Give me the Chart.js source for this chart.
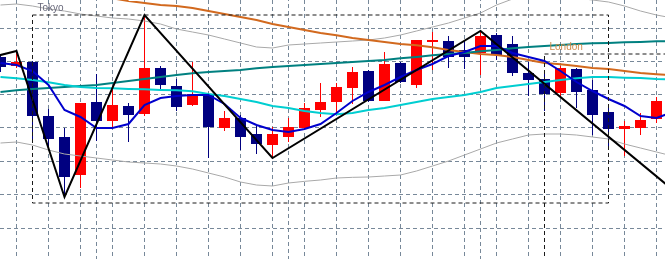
<!DOCTYPE html>
<html>
<head>
<meta charset="utf-8">
<script src="https://cdn.jsdelivr.net/npm/chart.js@4/dist/chart.umd.min.js"></script>
<style>
  html, body { margin: 0; padding: 0; background: #fff; }
  #wrap { width: 665px; height: 259px; position: relative; }
</style>
</head>
<body>
<div id="wrap"><canvas id="chart"></canvas></div>
<script>
// candles, one per bar index 0..41
const candleOpen = [145.513, 145.486, 145.498, 145.336, 145.273, 145.159, 145.378, 145.321, 145.366, 145.342,
    145.480, 145.426, 145.369, 145.402, 145.300, 145.330, 145.282, 145.249, 145.273, 145.300,
    145.354, 145.378, 145.420, 145.471, 145.381, 145.495, 145.429, 145.558, 145.561, 145.534,
    145.525, 145.579, 145.552, 145.465, 145.447, 145.405, 145.477, 145.414, 145.348, 145.297,
    145.300, 145.327];
const candleClose = [145.483, 145.498, 145.336, 145.267, 145.153, 145.375, 145.321, 145.369, 145.339, 145.480,
    145.429, 145.363, 145.402, 145.303, 145.330, 145.273, 145.252, 145.282, 145.303, 145.360,
    145.378, 145.423, 145.468, 145.381, 145.492, 145.438, 145.564, 145.564, 145.513, 145.513,
    145.576, 145.519, 145.465, 145.444, 145.402, 145.480, 145.408, 145.339, 145.297, 145.306,
    145.324, 145.381];
const candleHigh = [145.522, 145.531, 145.501, 145.357, 145.300, 145.375, 145.462, 145.414, 145.375, 145.639,
    145.486, 145.447, 145.498, 145.405, 145.351, 145.339, 145.309, 145.303, 145.330, 145.375,
    145.435, 145.435, 145.483, 145.474, 145.528, 145.498, 145.564, 145.588, 145.576, 145.564,
    145.591, 145.585, 145.576, 145.498, 145.468, 145.486, 145.480, 145.444, 145.369, 145.321,
    145.345, 145.393];
const candleLow = [145.468, 145.480, 145.258, 145.243, 145.093, 145.120, 145.261, 145.300, 145.258, 145.336,
    145.414, 145.351, 145.366, 145.210, 145.291, 145.234, 145.222, 145.210, 145.258, 145.297,
    145.333, 145.345, 145.372, 145.378, 145.381, 145.435, 145.420, 145.474, 145.480, 145.477,
    145.459, 145.504, 145.456, 145.396, 145.351, 145.393, 145.360, 145.279, 145.237, 145.216,
    145.279, 145.315];

// indicator lines, bar index 0..42
const maFast = [145.495, 145.489, 145.471, 145.429, 145.354, 145.333, 145.300, 145.300, 145.312, 145.369,
    145.390, 145.396, 145.399, 145.399, 145.372, 145.330, 145.309, 145.294, 145.288, 145.297,
    145.312, 145.345, 145.381, 145.408, 145.429, 145.453, 145.474, 145.492, 145.516, 145.528,
    145.546, 145.546, 145.525, 145.513, 145.501, 145.471, 145.438, 145.411, 145.387, 145.366,
    145.336, 145.330, 145.348];
const maMid = [145.453, 145.449, 145.444, 145.437, 145.429, 145.423, 145.420, 145.419, 145.417, 145.416,
    145.414, 145.413, 145.410, 145.402, 145.396, 145.387, 145.378, 145.366, 145.360, 145.351,
    145.345, 145.341, 145.345, 145.354, 145.360, 145.369, 145.378, 145.387, 145.393, 145.399,
    145.408, 145.420, 145.426, 145.432, 145.438, 145.444, 145.449, 145.453, 145.453, 145.451,
    145.450, 145.447, 145.446];
const maSlow = [145.408, 145.413, 145.417, 145.420, 145.423, 145.426, 145.429, 145.435, 145.441, 145.447,
    145.453, 145.459, 145.464, 145.468, 145.471, 145.474, 145.479, 145.483, 145.486, 145.489,
    145.492, 145.495, 145.498, 145.501, 145.504, 145.509, 145.513, 145.518, 145.522, 145.525,
    145.530, 145.534, 145.539, 145.543, 145.546, 145.549, 145.552, 145.554, 145.555, 145.557,
    145.558, 145.560, 145.561];
const maLong = [145.738, 145.732, 145.723, 145.717, 145.711, 145.702, 145.696, 145.689, 145.681, 145.675,
    145.669, 145.666, 145.660, 145.651, 145.642, 145.633, 145.624, 145.612, 145.603, 145.594,
    145.585, 145.578, 145.570, 145.564, 145.558, 145.552, 145.548, 145.542, 145.534, 145.528,
    145.522, 145.519, 145.513, 145.504, 145.495, 145.491, 145.486, 145.480, 145.477, 145.471,
    145.465, 145.461, 145.458];
const bandUpper = [145.669, 145.672, 145.666, 145.657, 145.651, 145.642, 145.636, 145.630, 145.627, 145.621,
    145.612, 145.597, 145.588, 145.579, 145.567, 145.555, 145.543, 145.540, 145.549, 145.552,
    145.555, 145.558, 145.561, 145.564, 145.570, 145.579, 145.591, 145.603, 145.615, 145.630,
    145.645, 145.669, 145.687, 145.696, 145.699, 145.696, 145.690, 145.684, 145.678, 145.666,
    145.651, 145.639, 145.630];
const bandLower = [145.255, 145.258, 145.249, 145.234, 145.222, 145.216, 145.210, 145.204, 145.198, 145.195,
    145.192, 145.186, 145.177, 145.165, 145.153, 145.138, 145.129, 145.126, 145.135, 145.140,
    145.144, 145.150, 145.152, 145.153, 145.156, 145.159, 145.171, 145.186, 145.201, 145.219,
    145.237, 145.255, 145.267, 145.279, 145.282, 145.282, 145.279, 145.273, 145.267, 145.252,
    145.240, 145.228, 145.216];

// zigzag pivots
const zigzagBars = [-2, 1, 4, 9, 17, 30, 44];
const zigzagPrices = [145.495, 145.531, 145.093, 145.639, 145.210, 145.591, 145.036];

// sessions
const sessionNames = ['Tokyo', 'London'];
const sessionStart = [2, 34];
const sessionEnd = [38, 46];
const sessionHigh = [145.639, 145.522];
const sessionLow = [145.075, 144.850];

// grid
const gridBars = [1, 3, 5, 6, 7, 9, 11, 13, 15, 17, 18, 19, 21, 23, 25, 27, 29, 30, 31, 33, 35, 37, 39, 41];
const separatorBars = [6, 18, 30];
const priceTicks = [145.0, 145.1, 145.2, 145.3, 145.4, 145.5, 145.6];

function points(values) {
    return values.map((v, i) => ({ x: i, y: v }));
}

function candleColor(i) {
    return candleClose[i] >= candleOpen[i] ? '#ff0000' : '#000080';
}

function sessionBox(i) {
    return [
        { x: sessionStart[i], y: sessionHigh[i] },
        { x: sessionEnd[i], y: sessionHigh[i] },
        { x: sessionEnd[i], y: sessionLow[i] },
        { x: sessionStart[i], y: sessionLow[i] },
        { x: sessionStart[i], y: sessionHigh[i] }
    ];
}

function lineSet(data, color, width, order) {
    return {
        type: 'line',
        data: data,
        borderColor: color,
        borderWidth: width,
        pointRadius: 0,
        tension: 0,
        fill: false,
        order: order
    };
}

const sessionLabels = {
    id: 'sessionLabels',
    afterDatasetsDraw(chart) {
        const { ctx, scales: { x, y } } = chart;
        const colors = ['#6a6a7c', '#cf8a48'];
        ctx.save();
        ctx.font = '10px "Liberation Sans", Arial, sans-serif';
        ctx.textBaseline = 'alphabetic';
        sessionNames.forEach((name, i) => {
            ctx.fillStyle = colors[i];
            ctx.fillText(name, x.getPixelForValue(sessionStart[i]) + 5, y.getPixelForValue(sessionHigh[i]) - 4);
        });
        ctx.restore();
    }
};

const boxStyle = { borderDash: [4, 3] };

new Chart(document.getElementById('chart').getContext('2d'), {
    type: 'bar',
    data: {
        datasets: [
            {
                data: candleLow.map((l, i) => ({ x: i, y: [l, candleHigh[i]] })),
                backgroundColor: ctx => candleColor(ctx.dataIndex),
                grouped: false,
                categoryPercentage: 1,
                barPercentage: 1,
                maxBarThickness: 1,
                inflateAmount: 0,
                borderWidth: 0,
                order: 11
            },
            {
                data: candleOpen.map((o, i) => ({ x: i, y: [o, candleClose[i]] })),
                backgroundColor: ctx => candleColor(ctx.dataIndex),
                grouped: false,
                categoryPercentage: 1,
                barPercentage: 1,
                maxBarThickness: 11,
                inflateAmount: 0,
                borderWidth: 0,
                order: 10
            },
            lineSet(points(bandUpper), '#a9a9a9', 1, 6),
            lineSet(points(bandLower), '#a9a9a9', 1, 6),
            lineSet(points(maLong), '#d2691e', 2, 5),
            lineSet(points(maSlow), '#008080', 2, 4),
            lineSet(points(maMid), '#00ced1', 2, 3),
            lineSet(points(maFast), '#0000cd', 2, 2),
            lineSet(zigzagBars.map((b, i) => ({ x: b, y: zigzagPrices[i] })), '#000000', 2, 1),
            Object.assign(lineSet(sessionBox(0), '#1a1a1a', 1, 0), boxStyle),
            Object.assign(lineSet(sessionBox(1), '#1a1a1a', 1, 0), boxStyle)
        ]
    },
    options: {
        responsive: true,
        maintainAspectRatio: false,
        animation: false,
        layout: { padding: 0 },
        plugins: {
            legend: { display: false },
            tooltip: { enabled: false }
        },
        scales: {
            x: {
                type: 'linear',
                min: -0.03125,
                max: 41.53125,
                offset: false,
                afterBuildTicks: scale => { scale.ticks = gridBars.map(v => ({ value: v })); },
                ticks: { display: false },
                grid: { color: '#778899', lineWidth: 1, drawTicks: false, offset: false },
                border: {
                    display: false,
                    dash: [4, 3],
                    dashOffset: ctx => (ctx.tick && separatorBars.includes(ctx.tick.value)) ? 3 : 0
                }
            },
            y: {
                type: 'linear',
                min: 144.907,
                max: 145.684,
                beginAtZero: false,
                afterBuildTicks: scale => { scale.ticks = priceTicks.map(v => ({ value: v })); },
                ticks: { display: false },
                grid: { color: '#778899', lineWidth: 1, drawTicks: false },
                border: { display: false, dash: [4, 3] }
            }
        }
    },
    plugins: [sessionLabels]
});
</script>
</body>
</html>
